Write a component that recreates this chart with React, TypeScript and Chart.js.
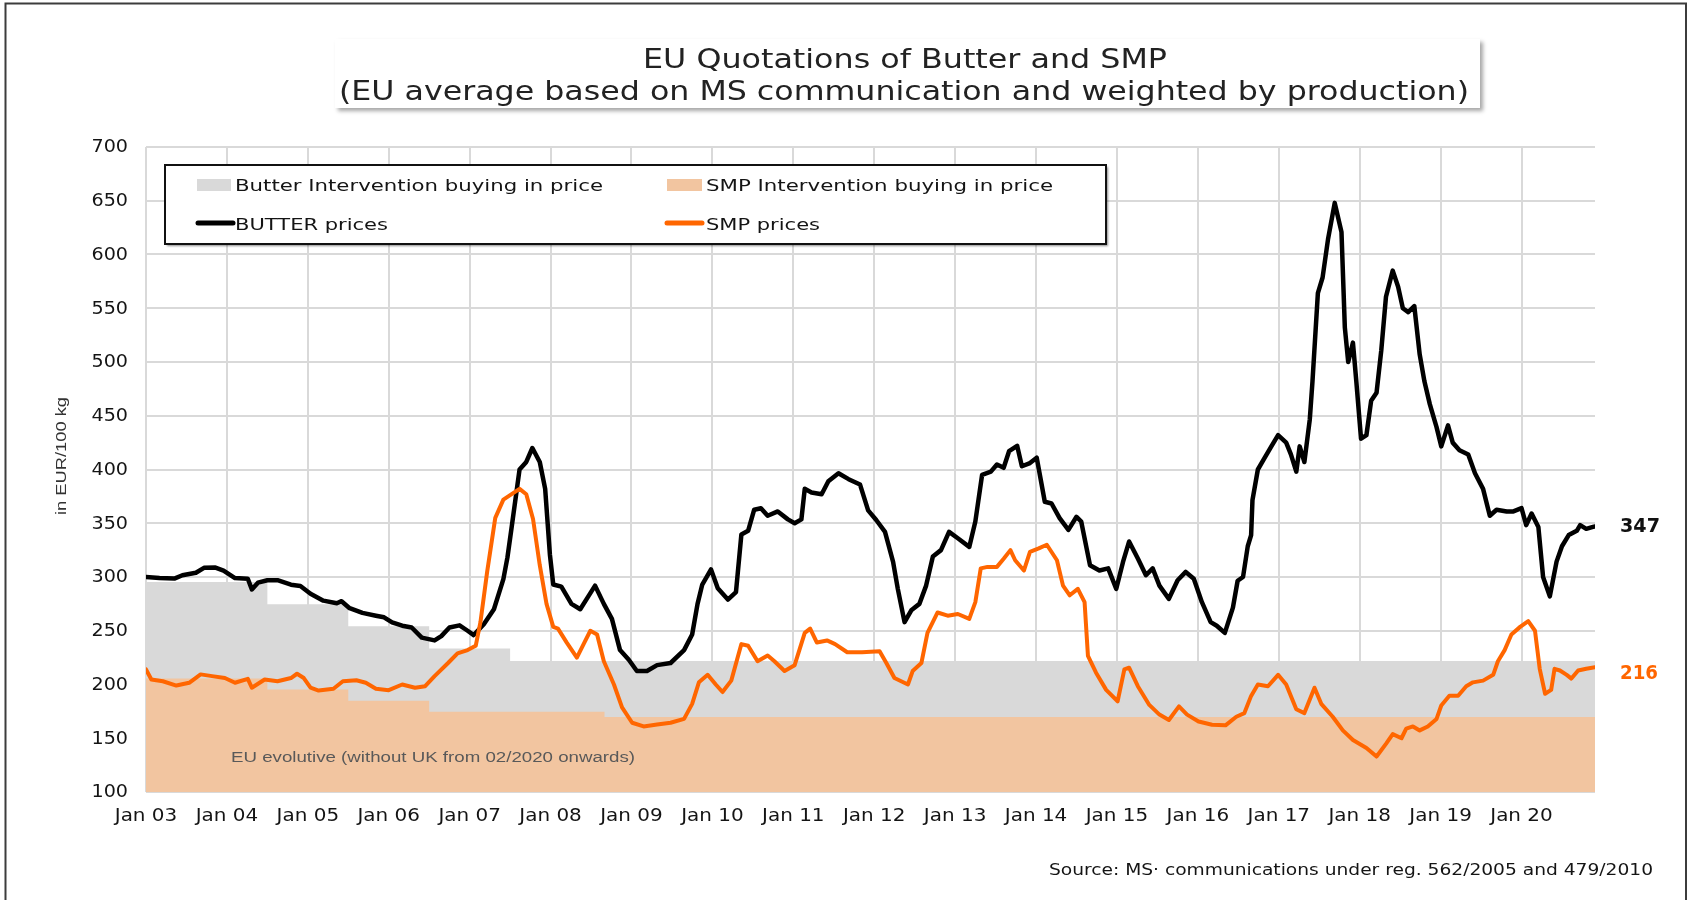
import React, { useEffect, useRef } from "react";
import { Chart, registerables } from "chart.js";

Chart.register(...registerables);

// ---------- text ----------
const titleLines = [
  "EU Quotations of Butter and SMP",
  "(EU average based on MS communication and weighted by production)",
];
const legendLabels = [
  "Butter Intervention buying in price",
  "SMP Intervention buying in price",
  "BUTTER prices",
  "SMP prices",
];
const yAxisTitle = "in EUR/100 kg";
const noteText = "EU evolutive (without UK from 02/2020 onwards)";
const sourceText = "Source: MS\u00b7 communications under reg. 562/2005 and 479/2010";
const xTickLabels = [
  "Jan 03", "Jan 04", "Jan 05", "Jan 06", "Jan 07", "Jan 08", "Jan 09", "Jan 10", "Jan 11",
  "Jan 12", "Jan 13", "Jan 14", "Jan 15", "Jan 16", "Jan 17", "Jan 18", "Jan 19", "Jan 20",
];
const yTickLabels = ["100", "150", "200", "250", "300", "350", "400", "450", "500", "550", "600", "650", "700"];

// ---------- data (x = months since Jan 2003, y = EUR/100 kg) ----------
const butterMonths = [
  0, 2, 4.2, 5.4, 7.4, 8.6, 10.3, 11.5, 13.2, 15.1,
  15.7, 16.6, 18, 19.5, 21.5, 22.9, 24.4, 26.3, 28.3, 29,
  30.2, 32.1, 34.1, 35.3, 36.5, 38, 39.4, 40.9, 42.8, 43.8,
  45, 46.5, 47.7, 48.6, 50.1, 51.6, 53, 53.6, 54.2, 55.4,
  56.4, 57.3, 58.4, 59.2, 59.9, 60.4, 61.6, 63.1, 64.4, 65.6,
  66.6, 67.9, 69.1, 70.3, 71.6, 72.8, 74.3, 75.8, 77.8, 79.8,
  81, 81.8, 82.5, 83.8, 84.8, 86.3, 87.5, 88.3, 89.3, 90.2,
  91.2, 92.2, 93.7, 95.2, 96.2, 97.2, 97.7, 98.7, 100.2, 101.2,
  102.7, 104.2, 105.9, 107.1, 108.3, 109.6, 110.8, 111.5, 112.5, 113.5,
  114.7, 115.7, 116.7, 117.9, 119.1, 120.4, 122.1, 123, 124, 125.3,
  126.2, 127.2, 128, 129.2, 129.9, 131.1, 132.1, 133.3, 134.3, 135.5,
  136.8, 138, 138.7, 140, 141.4, 142.7, 143.9, 144.9, 145.8, 147.1,
  148.3, 149.3, 150.3, 151.7, 153, 154.2, 155.4, 156.6, 157.9, 158.8,
  160, 161.2, 161.9, 162.7, 163.4, 163.9, 164.1, 164.9, 165.9, 166.9,
  167.9, 169.1, 169.8, 170.6, 171.1, 171.8, 172.6, 173, 173.8, 174.5,
  175.3, 176.3, 177.3, 177.8, 178.3, 179, 179.5, 180.2, 181, 181.7,
  182.5, 183.2, 183.9, 184.9, 185.7, 186.4, 187.2, 188.1, 188.9, 189.6,
  190.4, 191.4, 192.1, 193.1, 193.8, 194.8, 196.1, 197.1, 198.3, 199.3,
  200.3, 201.8, 202.8, 204, 204.7, 205.5, 206.5, 207.2, 208.2, 209.2,
  210, 211, 212.2, 212.7, 213.6, 214.6, 214.9,
];
const butterPrices = [
  300, 299, 298.5, 301.6, 304, 308.5, 308.8, 306, 299, 298.4,
  288.4, 294.7, 297, 297, 292.8, 291.6, 284.4, 278, 275.6, 277.5,
  271, 266.6, 264, 262.5, 257.8, 254.7, 253, 243.6, 241, 245,
  253, 255, 250, 246, 256, 270, 298, 318, 345, 400,
  407, 420, 407, 382, 321, 293, 291, 275, 270, 282,
  292, 275, 261, 232, 223, 212.6, 212.6, 218, 220, 232,
  246.5, 275, 293, 307, 289.5, 279, 286, 339.6, 343, 362.6,
  364, 357, 361, 353.6, 350, 353.6, 382, 378.6, 377, 389,
  396.5, 391, 386, 362, 353, 342, 314, 289, 258, 269,
  275, 292, 319, 325, 342, 336, 328, 351.6, 395, 398,
  404.7, 401.6, 417, 422, 403, 406, 411, 370, 368.4, 354.7,
  343.8, 356, 351.6, 311, 306, 308, 289, 314, 333, 317.2,
  301.6, 308, 292, 279.7, 297, 304.7, 298.4, 276.6, 258, 254.7,
  248, 271.5, 296.5, 300, 328.6, 339, 371.5, 400, 410.8, 421.5,
  432, 425, 414, 398, 421.5, 407, 446.5, 482, 564, 578.6,
  614, 648, 621, 532, 500, 518, 482, 428.6, 432, 464,
  471.5, 510.7, 560.7, 585, 570, 550, 546.4, 552, 507, 482,
  460.8, 439.4, 421.5, 441, 425, 418, 414, 396.5, 382, 357,
  362.6, 361, 361, 364, 348.3, 359, 346.6, 300, 282, 314.3,
  328.6, 339, 343, 348.3, 344.8, 346.6, 347,
];

const smpMonths = [
  0, 0.8, 2.5, 4.5, 6.4, 8.1, 9.8, 11.7, 13.2, 15.1,
  15.7, 17.6, 19.5, 21.5, 22.4, 23.4, 24.4, 25.6, 27.8, 29.2,
  31.2, 32.6, 34.1, 36, 38, 39.9, 41.4, 42.8, 44.8, 46.2,
  47.7, 48.9, 49.6, 50.6, 51.8, 53, 55.4, 56.4, 57.4, 58.4,
  59.4, 60.4, 61.1, 62.4, 63.9, 64.9, 65.9, 66.9, 67.9, 69.4,
  70.6, 72.1, 73.8, 75.8, 77.8, 79.8, 81, 82, 83.3, 84.5,
  85.5, 86.8, 88.3, 89.3, 90.7, 92.2, 93.2, 94.7, 96.2, 97.7,
  98.5, 99.5, 101, 102.2, 104, 106.2, 108.8, 109.8, 111, 113,
  113.7, 115, 115.9, 117.4, 118.9, 120.4, 122.1, 123, 123.8, 124.8,
  126.2, 127.2, 128.2, 128.9, 130.2, 131.1, 132.4, 133.6, 135.1, 136,
  137, 138.2, 139.2, 139.7, 140.9, 142.4, 144.1, 145.1, 145.8, 147.1,
  148.8, 150.3, 151.7, 153.2, 154.4, 156.1, 158.1, 160.1, 161.7, 162.9,
  163.9, 164.9, 166.4, 167.9, 169.1, 170.6, 171.8, 172.6, 173.3, 174.3,
  176, 177.5, 179, 181, 182.5, 183.9, 184.9, 186.2, 186.9, 187.9,
  188.9, 190.1, 191.4, 192.1, 193.3, 194.6, 195.8, 196.8, 198.3, 199.8,
  200.5, 201.5, 202.5, 203.8, 205, 206, 206.7, 207.5, 208.4, 208.9,
  209.7, 210.7, 211.4, 212.4, 213.6, 214.9,
];
const smpPrices = [
  214, 204.7, 203, 199, 201.6, 209.4, 207.8, 206, 201.6, 205.3,
  197, 204.7, 203, 206, 210, 206, 197, 194.4, 196, 203,
  204, 201.6, 196, 194.7, 200, 197, 198.4, 207.8, 220, 229,
  232, 236, 258, 305, 355, 372, 382, 377, 354, 311,
  275, 253.6, 252, 239, 225, 237.6, 250, 246.5, 221.6, 200,
  178.7, 164.4, 161, 162.7, 164.4, 168, 182, 202, 209, 200,
  193, 203.6, 237.6, 236, 221.6, 227, 221.6, 212.6, 218, 248,
  252, 239, 241, 237.6, 230, 230, 231, 220, 206, 200,
  212.5, 220, 248, 267, 264, 265.6, 261, 276.6, 308, 309.4,
  309.4, 317, 325, 315.6, 306, 323.4, 326.6, 330, 315.6, 292,
  283, 289, 276.6, 226.6, 211, 195, 184.4, 214, 215.6, 198.4,
  181, 172, 167, 179.7, 172, 165.6, 162.5, 162, 170, 173.4,
  189.4, 200, 198.4, 209, 200, 177, 173.4, 186, 197, 182,
  170, 157.3, 148.4, 141, 133, 144.8, 153.8, 150, 159, 161,
  157.3, 161, 168, 180.5, 189.5, 189.5, 198.4, 202, 203.6, 209,
  221.6, 232, 246.5, 253.6, 259, 250, 214.6, 191.4, 195, 214.6,
  213, 209, 205.5, 213, 214.6, 216,
];

const butterInterventionMonths = [0, 18, 30, 42, 54, 214.9];
const butterInterventionPrices = [295.38, 274.71, 254.19, 233.57, 221.75, 221.75];
const smpInterventionMonths = [0, 18, 30, 42, 68, 214.9];
const smpInterventionPrices = [205.52, 195.24, 185.0, 174.69, 169.8, 169.8];

// ---------- colours ----------
const BUTTER_COLOR = "#000000";
const SMP_COLOR = "#ff6600";
const BUTTER_FILL = "#d9d9d9";
const SMP_FILL = "#f2c5a0";
const GRID_COLOR = "#d9d9d9";
const TEXT_COLOR = "#141414";

const toPoints = (xs: number[], ys: number[]) => xs.map((x, i) => ({ x, y: ys[i] }));

const DEJAVU = '"DejaVu Sans", Verdana, sans-serif';
const ARIAL = '"Liberation Sans", Arial, sans-serif';

function drawText(
  ctx: CanvasRenderingContext2D,
  text: string,
  x: number,
  y: number,
  o: { size: number; color: string; family?: string; weight?: string; align?: string; width?: number; sx?: number; baseline?: CanvasTextBaseline }
) {
  ctx.save();
  ctx.font = `${o.weight || "normal"} ${o.size}px ${o.family || DEJAVU}`;
  const natural = ctx.measureText(text).width;
  const sx = o.width ? o.width / natural : o.sx || 1;
  const w = natural * sx;
  let left = x;
  if (o.align === "center") left = x - w / 2;
  else if (o.align === "right") left = x - w;
  ctx.translate(left, y);
  ctx.scale(sx, 1);
  ctx.textAlign = "left";
  ctx.textBaseline = o.baseline || "alphabetic";
  ctx.fillStyle = o.color;
  ctx.fillText(text, 0, 0);
  ctx.restore();
  return sx;
}

function measureSx(ctx: CanvasRenderingContext2D, text: string, size: number, target: number, family = DEJAVU) {
  ctx.save();
  ctx.font = `normal ${size}px ${family}`;
  const w = ctx.measureText(text).width;
  ctx.restore();
  return target / w;
}

const decorPlugin = {
  id: "decor",
  beforeDraw(chart: any) {
    const ctx = chart.ctx as CanvasRenderingContext2D;
    ctx.save();
    ctx.fillStyle = "#ffffff";
    ctx.fillRect(0, 0, chart.width, chart.height);
    ctx.restore();
  },
  afterDraw(chart: any) {
    const ctx = chart.ctx as CanvasRenderingContext2D;
    const xs = chart.scales.x;
    const ys = chart.scales.y;

    // outer frame
    ctx.save();
    ctx.strokeStyle = "#3c3c3c";
    ctx.lineWidth = 2;
    ctx.beginPath();
    ctx.moveTo(5.5, 900);
    ctx.lineTo(5.5, 3.5);
    ctx.lineTo(1686, 3.5);
    ctx.lineTo(1686, 900);
    ctx.stroke();
    ctx.restore();

    // title box
    ctx.save();
    ctx.shadowColor = "rgba(0,0,0,0.35)";
    ctx.shadowOffsetX = 3;
    ctx.shadowOffsetY = 3;
    ctx.shadowBlur = 4;
    ctx.fillStyle = "#ffffff";
    ctx.fillRect(335, 39, 1145, 69);
    ctx.restore();
    drawText(ctx, titleLines[0], 905, 67.5, { size: 26, color: "#222", align: "center", width: 524 });
    drawText(ctx, titleLines[1], 904, 99.5, { size: 26, color: "#222", align: "center", width: 1130 });

    // y axis title
    ctx.save();
    ctx.translate(62, 456);
    ctx.rotate(-Math.PI / 2);
    drawText(ctx, yAxisTitle, 0, 0, { size: 15, family: ARIAL, color: "#333", align: "center", width: 118, baseline: "middle" });
    ctx.restore();

    // tick labels
    const sxY = measureSx(ctx, "700", 17, 36.5);
    ys.ticks.forEach((t: any, i: number) => {
      drawText(ctx, yTickLabels[i], 128, ys.getPixelForValue(t.value) + 1, { size: 17, color: TEXT_COLOR, align: "right", sx: sxY, baseline: "middle" });
    });
    const sxX = measureSx(ctx, "Jan 03", 17, 62.5);
    xs.ticks.forEach((t: any, i: number) => {
      if (xTickLabels[i]) drawText(ctx, xTickLabels[i], xs.getPixelForValue(t.value), 821, { size: 17, color: TEXT_COLOR, align: "center", sx: sxX });
    });

    // legend
    ctx.save();
    ctx.shadowColor = "rgba(0,0,0,0.45)";
    ctx.shadowOffsetX = 2;
    ctx.shadowOffsetY = 2;
    ctx.shadowBlur = 2;
    ctx.fillStyle = "#ffffff";
    ctx.fillRect(165, 165, 941, 79);
    ctx.restore();
    ctx.save();
    ctx.strokeStyle = "#111";
    ctx.lineWidth = 2;
    ctx.strokeRect(165, 165, 941, 79);
    ctx.fillStyle = BUTTER_FILL;
    ctx.fillRect(197, 179, 34, 12);
    ctx.fillStyle = SMP_FILL;
    ctx.fillRect(667, 179, 35, 12);
    ctx.lineCap = "round";
    ctx.lineWidth = 5;
    ctx.strokeStyle = BUTTER_COLOR;
    ctx.beginPath();
    ctx.moveTo(198, 223);
    ctx.lineTo(233, 223);
    ctx.stroke();
    ctx.strokeStyle = SMP_COLOR;
    ctx.beginPath();
    ctx.moveTo(667, 223);
    ctx.lineTo(702, 223);
    ctx.stroke();
    ctx.restore();
    drawText(ctx, legendLabels[0], 235, 191, { size: 16, color: TEXT_COLOR, width: 368 });
    drawText(ctx, legendLabels[1], 706, 191, { size: 16, color: TEXT_COLOR, width: 347 });
    drawText(ctx, legendLabels[2], 235, 230, { size: 16, color: TEXT_COLOR, width: 153 });
    drawText(ctx, legendLabels[3], 706, 230, { size: 16, color: TEXT_COLOR, width: 114 });

    // annotations
    drawText(ctx, noteText, 231, 758, { size: 14, family: ARIAL, color: "#595959", width: 404, baseline: "middle" });
    const lastButter = butterPrices[butterPrices.length - 1];
    const lastSmp = smpPrices[smpPrices.length - 1];
    drawText(ctx, String(lastButter), 1620, ys.getPixelForValue(lastButter) + 1, { size: 19, weight: "bold", color: "#111", width: 40, baseline: "middle" });
    drawText(ctx, String(lastSmp), 1620, ys.getPixelForValue(lastSmp) + 7, { size: 19, weight: "bold", color: SMP_COLOR, width: 38, baseline: "middle" });
    drawText(ctx, sourceText, 1653, 875, { size: 16, color: TEXT_COLOR, align: "right", width: 604 });
  },
};

export default function App() {
  const ref = useRef<HTMLCanvasElement>(null);
  useEffect(() => {
    const canvas = ref.current;
    if (!canvas) return;
    const chart = new Chart(canvas, {
      type: "line",
      data: {
        datasets: [
          {
            label: legendLabels[3],
            data: toPoints(smpMonths, smpPrices),
            borderColor: SMP_COLOR,
            borderWidth: 4,
            pointRadius: 0,
            fill: false,
            order: 0,
            borderJoinStyle: "round",
            borderCapStyle: "round",
          },
          {
            label: legendLabels[2],
            data: toPoints(butterMonths, butterPrices),
            borderColor: BUTTER_COLOR,
            borderWidth: 4.5,
            pointRadius: 0,
            fill: false,
            order: 1,
            borderJoinStyle: "round",
            borderCapStyle: "round",
          },
          {
            label: legendLabels[1],
            data: toPoints(smpInterventionMonths, smpInterventionPrices),
            borderColor: "rgba(0,0,0,0)",
            borderWidth: 0,
            backgroundColor: SMP_FILL,
            pointRadius: 0,
            stepped: true,
            fill: "start",
            order: 2,
          },
          {
            label: legendLabels[0],
            data: toPoints(butterInterventionMonths, butterInterventionPrices),
            borderColor: "rgba(0,0,0,0)",
            borderWidth: 0,
            backgroundColor: BUTTER_FILL,
            pointRadius: 0,
            stepped: true,
            fill: "start",
            order: 3,
          },
        ] as any,
      },
      options: {
        responsive: false,
        animation: false,
        devicePixelRatio: 1,
        layout: { padding: { left: 146, top: 147, right: 95, bottom: 108 } },
        plugins: {
          legend: { display: false },
          tooltip: { enabled: false },
          title: { display: false },
        },
        elements: { line: { tension: 0 }, point: { radius: 0 } },
        scales: {
          x: {
            type: "linear",
            min: 0,
            max: 214.9,
            border: { display: false },
            grid: { color: GRID_COLOR, lineWidth: 2, drawTicks: false },
            ticks: { display: false, stepSize: 12, includeBounds: false },
          },
          y: {
            type: "linear",
            min: 100,
            max: 700,
            border: { display: false },
            grid: { color: GRID_COLOR, lineWidth: 2, drawTicks: false },
            ticks: { display: false, stepSize: 50 },
          },
        },
      } as any,
      plugins: [decorPlugin],
    });
    return () => chart.destroy();
  }, []);
  return (
    <div style={{ position: "absolute", left: 0, top: 0, width: 1690, height: 900, background: "#fff" }}>
      <canvas ref={ref} width={1690} height={900} style={{ width: 1690, height: 900, display: "block" }} />
    </div>
  );
}
